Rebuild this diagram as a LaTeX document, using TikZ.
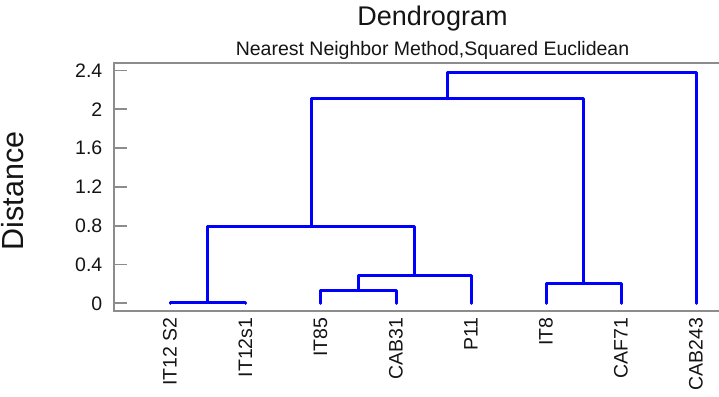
\documentclass[tikz,border=0pt]{standalone}
\usepackage{fontspec}
\setmainfont{Liberation Sans}
\definecolor{dendro}{RGB}{0,0,255}
\definecolor{axisgray}{RGB}{140,140,140}
\definecolor{txt}{RGB}{20,20,20}
\tikzset{
  link/.style={draw=dendro, line width=3pt, line join=round, line cap=round},
  axisline/.style={draw=axisgray, line width=1.8pt},
  ticklbl/.style={anchor=east, inner sep=0pt, text=txt, font=\fontsize{19.5}{22}\selectfont},
  leaflbl/.style={rotate=90, anchor=east, inner sep=0pt, text=txt, font=\fontsize{19.5}{22}\selectfont},
}
\begin{document}
\begin{tikzpicture}[x=1pt,y=-1pt]
\useasboundingbox (0,0) rectangle (719,396);
% titles
\node[anchor=base, inner sep=0pt, text=txt, font=\fontsize{27}{30}\selectfont] (title) at (432.5,26) {Dendrogram};
\node[anchor=base, inner sep=0pt, text=txt, font=\fontsize{19.5}{22}\selectfont] (subtitle) at (432.5,55.7) {Nearest Neighbor Method,Squared Euclidean};
\node[rotate=90, inner sep=0pt, text=txt, font=\fontsize{30.5}{34}\selectfont] (ylabel) at (12.5,191) {Distance};
% axes
\coordinate (tl) at (114,63);
\coordinate (tr) at (719,63);
\coordinate (bl) at (114,311);
\coordinate (br) at (719,311);
\draw[axisline] (tr) -- (tl) -- (bl) -- (br);
% ticks
\foreach \v/\lab [count=\i] in {0/0,0.4/0.4,0.8/0.8,1.2/1.2,1.6/1.6,2/2,2.4/2.4}{
  \coordinate (t\i) at (114,{303.3-97*\v});
  \coordinate (te\i) at (127,{303.3-97*\v});
  \draw[axisline] (t\i) -- (te\i);
  \node[ticklbl] (tl\i) at (102.5,{303.3-97*\v}) {\lab};
}
% leaves
\foreach \x/\lab [count=\i] in {170/IT12 S2,245.5/IT12s1,320.5/IT85,396/CAB31,471/P11,546/IT8,621/CAF71,696/CAB243}{
  \coordinate (L\i) at (\x,303.3);
  \node[leaflbl] (lab\i) at (\x,317.5) {\lab};
}
% merges
\coordinate (m12) at (207.75,302.3);
\coordinate (m34) at (358.25,290.7);
\coordinate (m345) at (414.6,275);
\coordinate (mA) at (311.2,226);
\coordinate (m67) at (583.5,283.3);
\coordinate (mB) at (447.3,98.7);
\coordinate (mC) at (571.7,72.3);
\draw[link] (L1) |- (m12) -| (L2);
\draw[link] (L3) |- (m34) -| (L4);
\draw[link] (m34) |- (m345) -| (L5);
\draw[link] (m12) |- (mA) -| (m345);
\draw[link] (L6) |- (m67) -| (L7);
\draw[link] (mA) |- (mB) -| (m67);
\draw[link] (mB) |- (mC) -| (L8);
\end{tikzpicture}
\end{document}
